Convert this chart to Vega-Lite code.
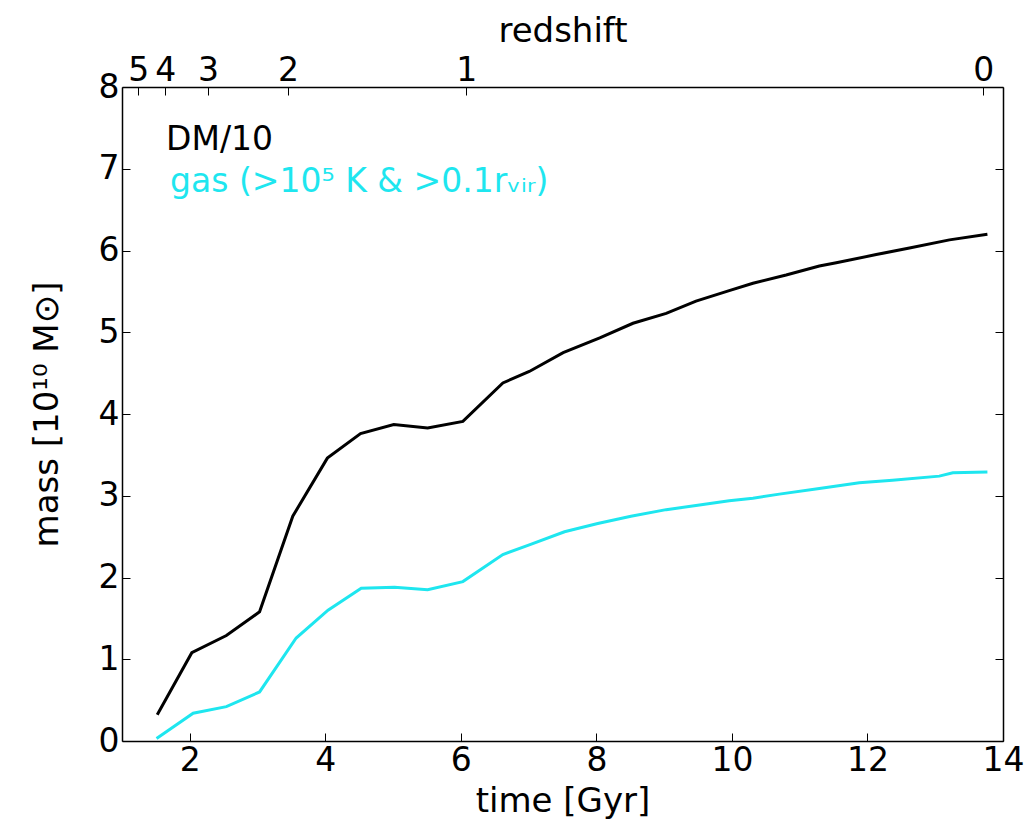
{
  "$schema": "https://vega.github.io/schema/vega-lite/v6.json",
  "width": 881,
  "height": 654,
  "autosize": {"type": "none"},
  "padding": {"left": 122, "top": 87, "right": 31, "bottom": 85},
  "background": "white",
  "config": {
    "font": "DejaVu Sans",
    "view": {"stroke": null},
    "axis": {
      "grid": false,
      "domainColor": "black",
      "domainWidth": 1.5,
      "tickColor": "black",
      "tickWidth": 1,
      "tickSize": -8,
      "labelColor": "black",
      "titleColor": "black",
      "labelFont": "DejaVu Sans",
      "titleFont": "DejaVu Sans",
      "labelFontSize": 33,
      "titleFontSize": 34,
      "titleFontWeight": "normal",
      "labelFlush": false,
      "labelOverlap": false
    }
  },
  "datasets": {
    "lines": [
      {"series": "DM/10", "t": 1.52, "m": 0.32},
      {"series": "DM/10", "t": 2.03, "m": 1.08},
      {"series": "DM/10", "t": 2.54, "m": 1.29},
      {"series": "DM/10", "t": 3.03, "m": 1.58},
      {"series": "DM/10", "t": 3.52, "m": 2.75},
      {"series": "DM/10", "t": 4.03, "m": 3.46},
      {"series": "DM/10", "t": 4.52, "m": 3.76},
      {"series": "DM/10", "t": 5.01, "m": 3.87},
      {"series": "DM/10", "t": 5.51, "m": 3.83},
      {"series": "DM/10", "t": 6.03, "m": 3.91},
      {"series": "DM/10", "t": 6.62, "m": 4.38},
      {"series": "DM/10", "t": 7.01, "m": 4.52},
      {"series": "DM/10", "t": 7.51, "m": 4.75},
      {"series": "DM/10", "t": 8.05, "m": 4.93},
      {"series": "DM/10", "t": 8.54, "m": 5.11},
      {"series": "DM/10", "t": 9.03, "m": 5.23},
      {"series": "DM/10", "t": 9.47, "m": 5.38},
      {"series": "DM/10", "t": 9.96, "m": 5.51},
      {"series": "DM/10", "t": 10.31, "m": 5.6},
      {"series": "DM/10", "t": 10.8, "m": 5.7},
      {"series": "DM/10", "t": 11.29, "m": 5.81},
      {"series": "DM/10", "t": 11.54, "m": 5.85},
      {"series": "DM/10", "t": 12.13, "m": 5.95},
      {"series": "DM/10", "t": 12.62, "m": 6.03},
      {"series": "DM/10", "t": 13.21, "m": 6.13},
      {"series": "DM/10", "t": 13.77, "m": 6.2},
      {"series": "gas", "t": 1.51, "m": 0.03},
      {"series": "gas", "t": 2.05, "m": 0.34},
      {"series": "gas", "t": 2.54, "m": 0.42},
      {"series": "gas", "t": 3.03, "m": 0.6},
      {"series": "gas", "t": 3.57, "m": 1.26},
      {"series": "gas", "t": 4.04, "m": 1.6},
      {"series": "gas", "t": 4.53, "m": 1.87},
      {"series": "gas", "t": 5.02, "m": 1.88},
      {"series": "gas", "t": 5.51, "m": 1.85},
      {"series": "gas", "t": 6.03, "m": 1.95},
      {"series": "gas", "t": 6.62, "m": 2.28},
      {"series": "gas", "t": 7.01, "m": 2.4},
      {"series": "gas", "t": 7.53, "m": 2.56},
      {"series": "gas", "t": 8.02, "m": 2.66},
      {"series": "gas", "t": 8.51, "m": 2.75},
      {"series": "gas", "t": 9.03, "m": 2.83},
      {"series": "gas", "t": 9.47, "m": 2.88},
      {"series": "gas", "t": 9.96, "m": 2.94},
      {"series": "gas", "t": 10.31, "m": 2.97},
      {"series": "gas", "t": 10.7, "m": 3.02},
      {"series": "gas", "t": 11.29, "m": 3.09},
      {"series": "gas", "t": 11.88, "m": 3.16},
      {"series": "gas", "t": 12.37, "m": 3.19},
      {"series": "gas", "t": 13.06, "m": 3.24},
      {"series": "gas", "t": 13.26, "m": 3.28},
      {"series": "gas", "t": 13.77, "m": 3.29}
    ],
    "labels": [
      {"series": "DM/10", "t": 1.65, "m": 7.23, "label": "DM/10"},
      {"series": "gas", "t": 1.71, "m": 6.72, "label": "gas (>10⁵ K & >0.1rᵥᵢᵣ)"}
    ]
  },
  "layer": [
    {
      "data": {"name": "lines"},
      "mark": {"type": "line", "strokeWidth": 3, "clip": true},
      "encoding": {
        "x": {
          "field": "t", "type": "quantitative",
          "scale": {"domain": [1, 14], "nice": false, "zero": false},
          "axis": {
            "orient": "bottom",
            "values": [2, 4, 6, 8, 10, 12, 14],
            "title": "time [Gyr]",
            "labelPadding": 11,
            "titlePadding": 7
          }
        },
        "y": {
          "field": "m", "type": "quantitative",
          "scale": {"domain": [0, 8], "nice": false, "zero": false},
          "axis": {
            "orient": "left",
            "values": [0, 1, 2, 3, 4, 5, 6, 7, 8],
            "title": "mass [10¹⁰ M⊙]",
            "labelPadding": 11,
            "titlePadding": 34
          }
        },
        "color": {
          "field": "series", "type": "nominal",
          "scale": {"domain": ["DM/10", "gas"], "range": ["#000000", "#1ee6ef"]},
          "legend": null
        }
      }
    },
    {
      "data": {"name": "labels"},
      "mark": {"type": "text", "align": "left", "baseline": "alphabetic", "fontSize": 33, "font": "DejaVu Sans"},
      "encoding": {
        "x": {
          "field": "t", "type": "quantitative",
          "scale": {"domain": [1, 14], "nice": false, "zero": false},
          "axis": {
            "orient": "top",
            "values": [1.24, 1.64, 2.27, 3.45, 6.08, 13.71],
            "labelExpr": "datum.value < 1.4 ? '5' : datum.value < 2 ? '4' : datum.value < 3 ? '3' : datum.value < 5 ? '2' : datum.value < 10 ? '1' : '0'",
            "title": "redshift",
            "labelPadding": 8,
            "titlePadding": 6
          }
        },
        "y": {
          "field": "m", "type": "quantitative",
          "scale": {"domain": [0, 8], "nice": false, "zero": false},
          "axis": {
            "orient": "right",
            "values": [0, 1, 2, 3, 4, 5, 6, 7, 8],
            "labels": false,
            "title": null
          }
        },
        "text": {"field": "label"},
        "color": {"field": "series", "type": "nominal", "legend": null}
      }
    }
  ],
  "resolve": {"axis": {"x": "independent", "y": "independent"}}
}
